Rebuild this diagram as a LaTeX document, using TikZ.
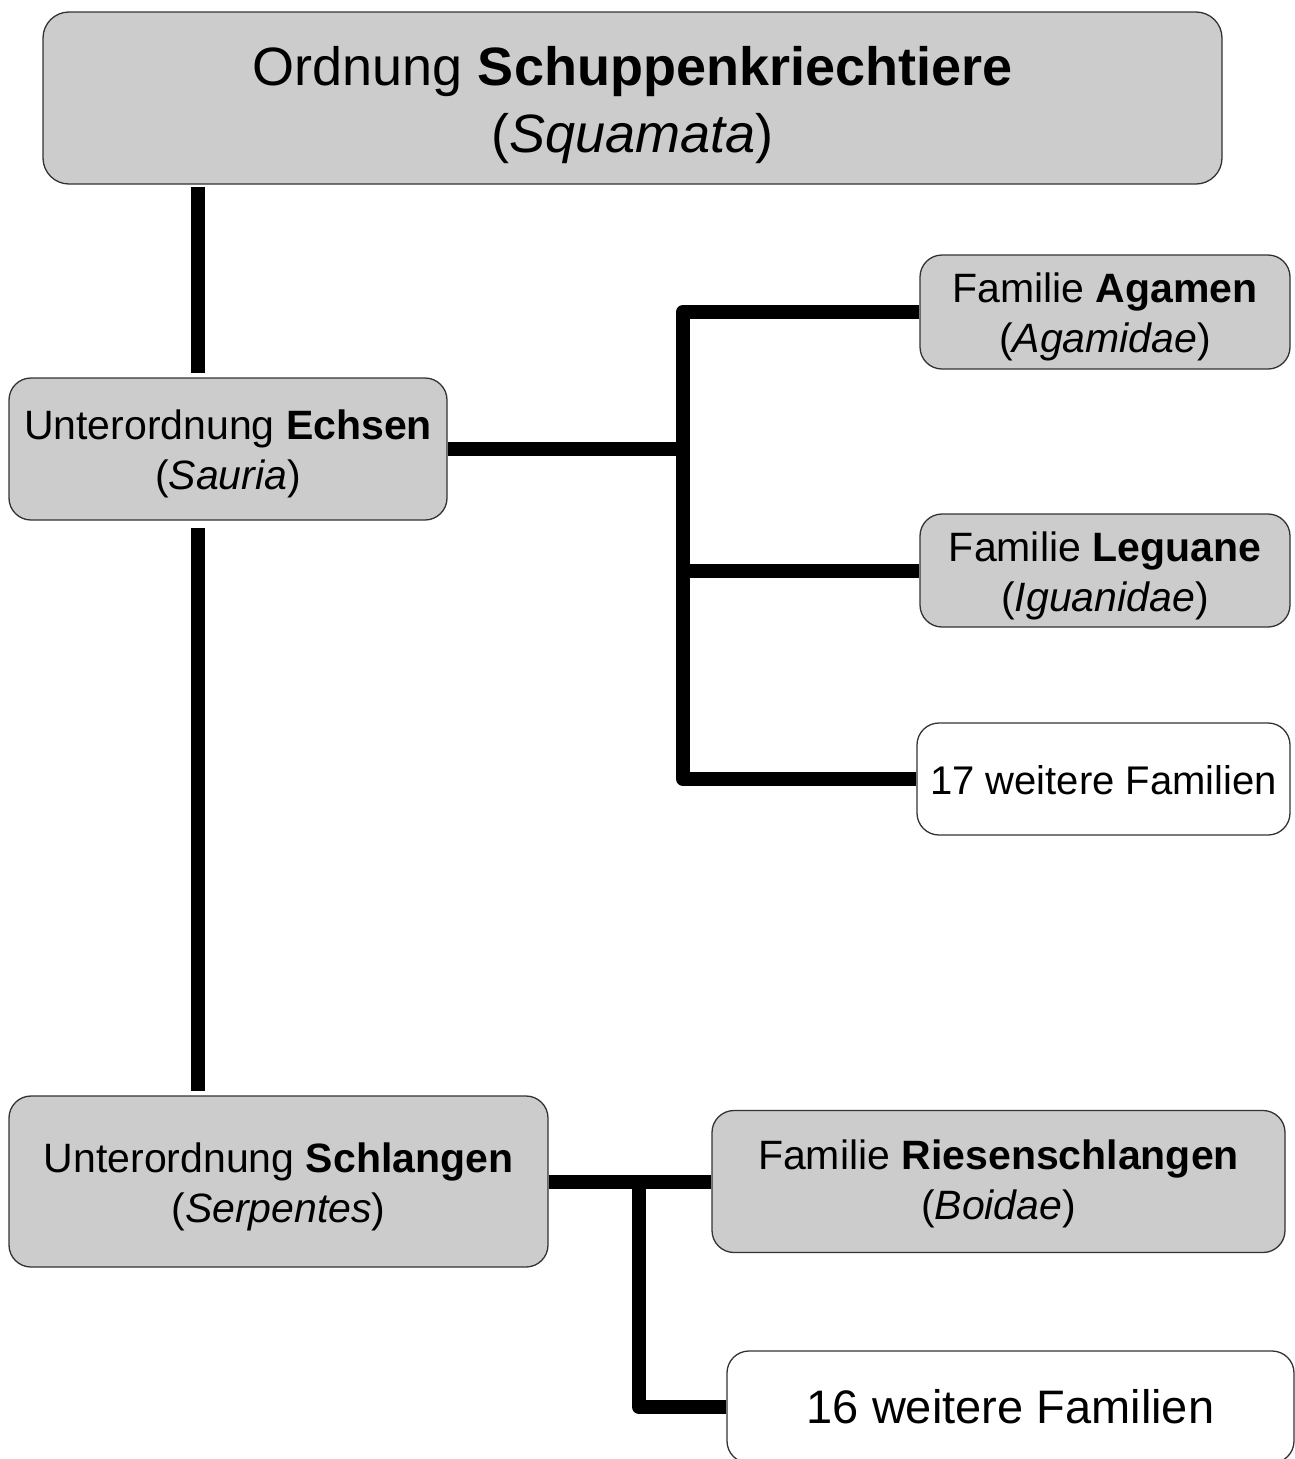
\documentclass[tikz,border=0pt]{standalone}
\usepackage{fontspec}
\setmainfont{Liberation Sans}
\begin{document}
\begin{tikzpicture}[x=1pt,y=-1pt,
  box/.style={draw=black!80, line width=1.3pt, fill=gray!40, rounded corners=22pt,
    inner sep=0pt},
  whitebox/.style={box, fill=white},
  lab/.style={align=center, inner sep=0pt, font=\fontsize{41}{50}\selectfont},
  conn/.style={draw=black, line width=14pt, line join=round}]
\useasboundingbox (0,0) rectangle (1295,1459);
\clip (0,0) rectangle (1295,1459);
\fill[white] (0,0) rectangle (1295,1459);

\node[box, rounded corners=26pt, minimum width=1179, minimum height=172,
  label={[lab, font=\fontsize{54}{67}\selectfont, yshift=-7.5pt]center:{Ordnung \textbf{Schuppenkriechtiere}\\(\textit{Squamata})}}]
  (top) at (632.5,98) {};
\node[box, minimum width=438, minimum height=142,
  label={[lab, yshift=-5pt]center:{Unterordnung \textbf{Echsen}\\(\textit{Sauria})}}]
  (echsen) at (228,449) {};
\node[box, minimum width=370, minimum height=114,
  label={[lab, yshift=-4.5pt]center:{Familie \textbf{Agamen}\\(\textit{Agamidae})}}]
  (agamen) at (1105,312) {};
\node[box, minimum width=370, minimum height=113,
  label={[lab, yshift=-5pt]center:{Familie \textbf{Leguane}\\(\textit{Iguanidae})}}]
  (leguane) at (1105,570.5) {};
\node[whitebox, minimum width=373, minimum height=112,
  label={[lab, font=\fontsize{40}{48}\selectfont, yshift=-1pt]center:{17 weitere Familien}}]
  (w17) at (1103.5,779) {};
\node[box, minimum width=539, minimum height=171,
  label={[lab, yshift=-5pt]center:{Unterordnung \textbf{Schlangen}\\(\textit{Serpentes})}}]
  (schlangen) at (278.5,1181.5) {};
\node[box, minimum width=573, minimum height=142,
  label={[lab, yshift=-2.5pt]center:{Familie \textbf{Riesenschlangen}\\(\textit{Boidae})}}]
  (riesen) at (998.5,1181.5) {};
\node[whitebox, minimum width=567, minimum height=112,
  label={[lab, font=\fontsize{47}{56}\selectfont]center:{16 weitere Familien}}]
  (w16) at (1010.5,1407) {};

\coordinate (v1) at (198,0);
\coordinate (e) at (683,0);
\coordinate (s) at (639,0);

\draw[conn] ([yshift=-2pt]top.south -| v1) -- ([yshift=4pt]echsen.north -| v1);
\draw[conn] ([yshift=-7pt]echsen.south -| v1) -- ([yshift=4pt]schlangen.north -| v1);

\draw[conn] (echsen.east) -- (echsen.east -| e);
\draw[conn] (agamen.west) -- (agamen.west -| e) -- (w17.west -| e) -- (w17.west);
\draw[conn] (leguane.west) -- (leguane.west -| e);

\draw[conn] (schlangen.east) -- (riesen.west);
\draw[conn] (schlangen.east -| s) -- (w16.west -| s) -- (w16.west);
\end{tikzpicture}
\end{document}
